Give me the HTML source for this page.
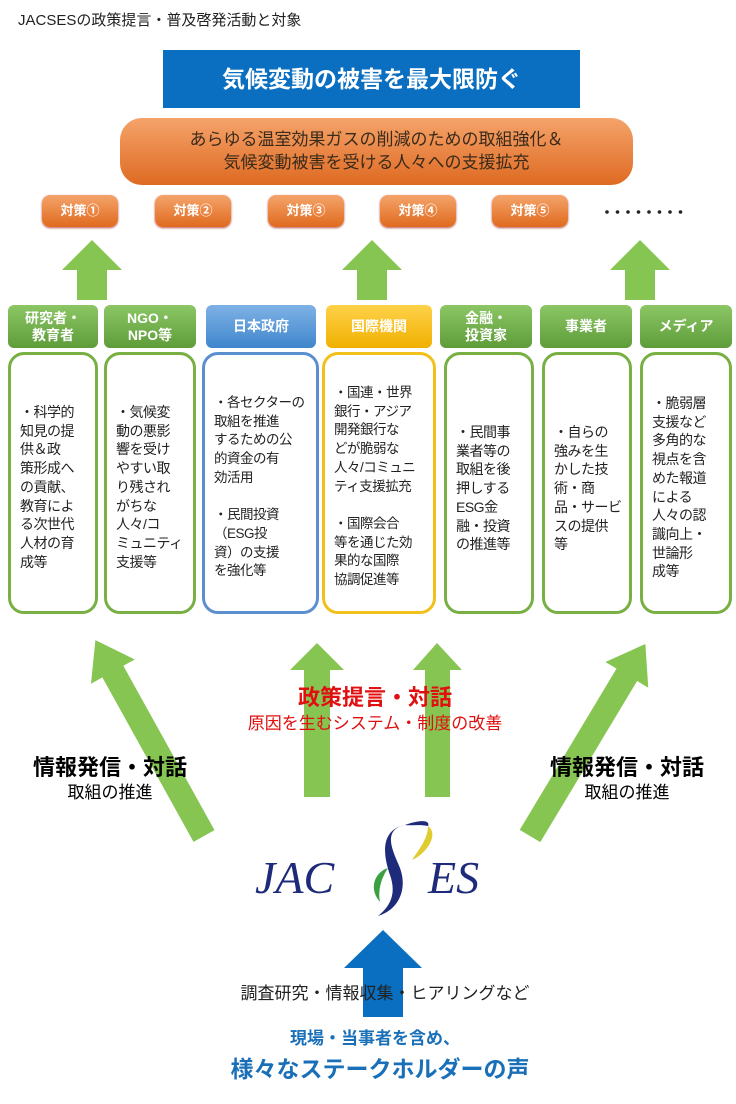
<!DOCTYPE html>
<html><head><meta charset="utf-8"><style>
body{margin:0;width:736px;height:1104px;background:#fff;position:relative;overflow:hidden;font-family:"Liberation Sans","Noto Sans CJK JP",sans-serif;}
.a{position:absolute;white-space:nowrap}
.bt{position:absolute;font-size:14px;line-height:18.7px;color:#222;white-space:nowrap;letter-spacing:-0.5px}
.c{text-align:center}
.tb{position:absolute;top:195px;width:76px;height:32px;border-radius:8px;background:linear-gradient(#f4a46b,#e06a1e);color:#fff;font-weight:bold;font-size:13px;line-height:32px;text-align:center;box-shadow:0 1px 2px #b55}
.hd{position:absolute;top:305px;height:43px;border-radius:6px;color:#fff;font-weight:bold;font-size:14px;text-align:center;display:flex;align-items:center;justify-content:center;line-height:17px}
.g{background:linear-gradient(#8cc665,#5e9c3a)}
.bx{position:absolute;top:352px;height:262px;border:3px solid #78b044;border-radius:16px;box-sizing:border-box}
</style></head><body>
<div class="a" style="left:18px;top:9px;font-size:15px;color:#222">JACSESの政策提言・普及啓発活動と対象</div>
<div class="a c" style="left:163px;top:50px;width:417px;height:58px;background:#0a6fc0;color:#fff;font-weight:bold;font-size:23px;line-height:58px">気候変動の被害を最大限防ぐ</div>
<div class="a c" style="left:120px;top:118px;width:513px;height:67px;border-radius:22px;background:linear-gradient(#f5a36a,#de6a22);color:#3a2a1a;font-size:17px;line-height:23px;padding-top:10px;box-sizing:border-box">あらゆる温室効果ガスの削減のための取組強化＆<br>気候変動被害を受ける人々への支援拡充</div>
<div class="tb" style="left:42px">対策①</div><div class="tb" style="left:155px">対策②</div><div class="tb" style="left:268px">対策③</div><div class="tb" style="left:380px">対策④</div><div class="tb" style="left:492px">対策⑤</div>
<svg class="a" style="left:0;top:0" width="736" height="1104">
<g fill="#222"><circle cx="607" cy="212" r="1.8"/><circle cx="617.5" cy="212" r="1.8"/><circle cx="628" cy="212" r="1.8"/><circle cx="638.5" cy="212" r="1.8"/><circle cx="649" cy="212" r="1.8"/><circle cx="659.5" cy="212" r="1.8"/><circle cx="670" cy="212" r="1.8"/><circle cx="680.5" cy="212" r="1.8"/></g>
<g fill="#86c552">
<polygon points="62,270 92,240 122,270 107,270 107,300 77,300 77,270"/>
<polygon points="342,270 372,240 402,270 387,270 387,300 357,300 357,270"/>
<polygon points="610,270 640,240 670,270 655,270 655,300 625,300 625,270"/>
<polygon points="290,670 317,643 344,670 330,670 330,797 304,797 304,670"/>
<polygon points="413,670 437,643 462,670 450,670 450,797 425,797 425,670"/>
<g transform="translate(204,836) rotate(-29)"><polygon points="-12,0 12,0 12,-188 25,-188 0,-224 -25,-188 -12,-188"/></g>
<g transform="translate(530,836) rotate(31)"><polygon points="-12,0 12,0 12,-188 25,-188 0,-224 -25,-188 -12,-188"/></g>
</g>
<polygon fill="#0a6fc0" points="344,968 383,930 422,968 403,968 403,1017 363,1017 363,968"/>
<path d="M405,825 C380,830 395,855 400,868 C408,890 398,910 378,916 C392,905 396,892 390,875 C383,855 380,830 405,825Z" fill="#1e2a7a"/>
<path d="M405,825 C425,818 430,822 428,826 C420,824 410,826 405,825Z" fill="#1e2a7a"/>
<path d="M428,826 C440,835 425,855 412,860 C420,848 428,838 428,826Z" fill="#e0cc30"/>
<path d="M380,902 C368,888 375,872 388,868 C380,880 378,892 380,902Z" fill="#3aa040"/>
<text x="255" y="893" font-family="Liberation Serif,serif" font-style="italic" font-size="46" fill="#1e2a7a">JAC</text>
<text x="428" y="893" font-family="Liberation Serif,serif" font-style="italic" font-size="46" fill="#1e2a7a">ES</text>
</svg>
<div class="hd g" style="left:8px;width:90px">研究者・<br>教育者</div>
<div class="hd g" style="left:104px;width:92px">NGO・<br>NPO等</div>
<div class="hd" style="left:206px;width:110px;background:linear-gradient(#7fb2e6,#3f86cc)">日本政府</div>
<div class="hd" style="left:326px;width:106px;background:linear-gradient(#ffd24a,#f0b000)">国際機関</div>
<div class="hd g" style="left:440px;width:92px">金融・<br>投資家</div>
<div class="hd g" style="left:540px;width:92px">事業者</div>
<div class="hd g" style="left:640px;width:92px">メディア</div>
<div class="bx" style="left:8px;width:90px"></div>
<div class="bx" style="left:104px;width:92px"></div>
<div class="bx" style="left:202px;width:117px;border-color:#5b8fd0"></div>
<div class="bx" style="left:322px;width:114px;border-color:#f2c01a"></div>
<div class="bx" style="left:444px;width:90px"></div>
<div class="bx" style="left:542px;width:90px"></div>
<div class="bx" style="left:640px;width:92px"></div>
<div class="bt" style="left:20px;top:403px">・科学的<br>知見の提<br>供＆政<br>策形成へ<br>の貢献、<br>教育によ<br>る次世代<br>人材の育<br>成等</div>
<div class="bt" style="left:116px;top:403px">・気候変<br>動の悪影<br>響を受け<br>やすい取<br>り残され<br>がちな<br>人々/コ<br>ミュニティ<br>支援等</div>
<div class="bt" style="left:214px;top:394px;font-size:13.5px">・各セクターの<br>取組を推進<br>するための公<br>的資金の有<br>効活用<br><br>・民間投資<br>（ESG投<br>資）の支援<br>を強化等</div>
<div class="bt" style="left:334px;top:384px;font-size:13.5px">・国連・世界<br>銀行・アジア<br>開発銀行な<br>どが脆弱な<br>人々/コミュニ<br>ティ支援拡充<br><br>・国際会合<br>等を通じた効<br>果的な国際<br>協調促進等</div>
<div class="bt" style="left:456px;top:423px">・民間事<br>業者等の<br>取組を後<br>押しする<br>ESG金<br>融・投資<br>の推進等</div>
<div class="bt" style="left:554px;top:423px">・自らの<br>強みを生<br>かした技<br>術・商<br>品・サービ<br>スの提供<br>等</div>
<div class="bt" style="left:652px;top:394px">・脆弱層<br>支援など<br>多角的な<br>視点を含<br>めた報道<br>による<br>人々の認<br>識向上・<br>世論形<br>成等</div>
<div class="a c" style="left:225px;width:300px;top:680px;font-size:22px;font-weight:bold;color:#e01010">政策提言・対話</div>
<div class="a c" style="left:200px;width:350px;top:709px;font-size:17px;color:#e01010">原因を生むシステム・制度の改善</div>
<div class="a c" style="left:10px;width:200px;top:750px;font-size:22px;font-weight:bold">情報発信・対話</div>
<div class="a c" style="left:10px;width:200px;top:778px;font-size:17px">取組の推進</div>
<div class="a c" style="left:527px;width:200px;top:750px;font-size:22px;font-weight:bold">情報発信・対話</div>
<div class="a c" style="left:527px;width:200px;top:778px;font-size:17px">取組の推進</div>
<div class="a c" style="left:210px;width:350px;top:979px;font-size:17px;color:#222">調査研究・情報収集・ヒアリングなど</div>
<div class="a c" style="left:210px;width:330px;top:1024px;font-size:17px;font-weight:bold;color:#1a70b8">現場・当事者を含め、</div>
<div class="a c" style="left:200px;width:360px;top:1050px;font-size:23px;font-weight:bold;color:#1a70b8">様々なステークホルダーの声</div>
</body></html>
